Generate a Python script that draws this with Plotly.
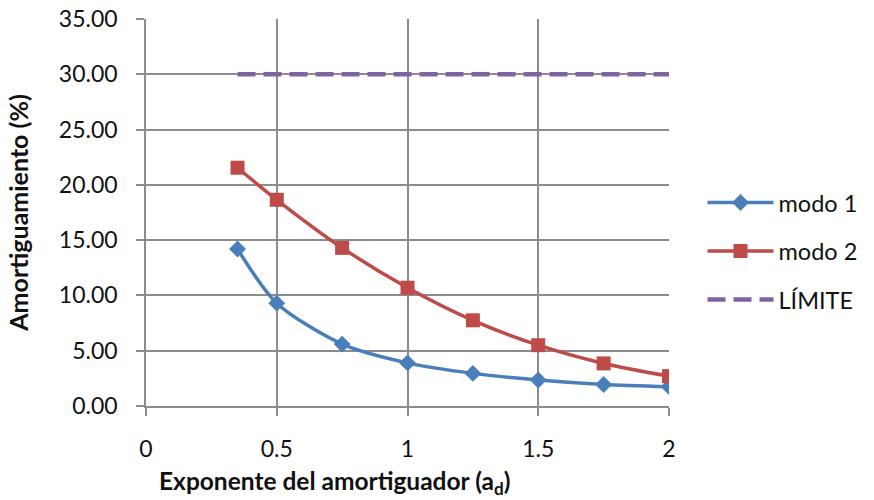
import plotly.graph_objects as go

# data
exponente = [0.35, 0.5, 0.75, 1.0, 1.25, 1.5, 1.75, 2.0]
modo_1 = [14.2, 9.3, 5.6, 3.9, 2.95, 2.35, 1.95, 1.75]
modo_2 = [21.55, 18.65, 14.3, 10.7, 7.75, 5.5, 3.85, 2.7]
limite_x = [0.35, 2.0]
limite = [30.0, 30.0]

x_ticks = [0, 0.5, 1, 1.5, 2]
x_tick_labels = ["0", "0.5", "1", "1.5", "2"]
y_ticks = [0, 5, 10, 15, 20, 25, 30, 35]
y_tick_labels = ["0.00", "5.00", "10.00", "15.00", "20.00", "25.00", "30.00", "35.00"]

font_family = "Lato, 'Open Sans', sans-serif"
grid_color = "#8c8c8c"

fig = go.Figure()

fig.add_trace(go.Scatter(
    x=exponente, y=modo_1, name="modo 1", legendgroup="a",
    mode="lines+markers",
    line=dict(color="#4a7ebb", width=3.5, shape="spline", smoothing=0.8),
    marker=dict(symbol="diamond", size=13, color="#4a7ebb"),
))
fig.add_trace(go.Scatter(
    x=exponente, y=modo_2, name="modo 2", legendgroup="b",
    mode="lines+markers",
    line=dict(color="#be4b48", width=3.5, shape="spline", smoothing=0.8),
    marker=dict(symbol="square", size=14, color="#be4b48"),
))
fig.add_trace(go.Scatter(
    x=limite_x, y=limite, name="LÍMITE", legendgroup="c",
    mode="lines",
    line=dict(color="#7f63a1", width=4.5, dash="18px,8px"),
))

fig.update_layout(
    width=874, height=500,
    margin=dict(l=146, r=202, t=19, b=94),
    plot_bgcolor="white", paper_bgcolor="white",
    font=dict(family=font_family, size=23, color="#111"),
    showlegend=True,
    legend=dict(
        x=1.37, y=0.40, xanchor="right", yanchor="middle",
        font=dict(size=23.5), tracegroupgap=15, itemwidth=66,
        bgcolor="rgba(0,0,0,0)",
    ),
    xaxis=dict(
        range=[0, 2], tickvals=x_ticks, ticktext=x_tick_labels,
        showgrid=True, gridcolor=grid_color, gridwidth=1.5,
        showline=True, linecolor=grid_color, linewidth=1.5, mirror=False,
        ticks="outside", ticklen=8, tickcolor=grid_color, tickwidth=1.5,
        ticklabelstandoff=14, zeroline=False, automargin=False,
    ),
    yaxis=dict(
        range=[0, 35], tickvals=y_ticks, ticktext=y_tick_labels,
        showgrid=True, gridcolor=grid_color, gridwidth=1.5,
        showline=True, linecolor=grid_color, linewidth=1.5,
        ticks="outside", ticklen=8, tickcolor=grid_color, tickwidth=1.5,
        ticklabelstandoff=14, zeroline=False, automargin=False,
        title=dict(text="<b>Amortiguamiento (%)</b>", font=dict(size=25), standoff=23),
    ),
)

# x axis title sits left of the plot centre in the original, so it is an annotation
fig.add_annotation(
    text="<b>Exponente del amortiguador (a<sub>d</sub>)</b>",
    xref="paper", yref="paper", x=0.361, y=-0.197,
    xanchor="center", yanchor="middle", showarrow=False,
    font=dict(size=24.5),
)

# drop the default page margin so the figure sits at the window corner
fig.write_html("out.html", config={"displayModeBar": False},
               post_script="document.body.style.margin='0';")
